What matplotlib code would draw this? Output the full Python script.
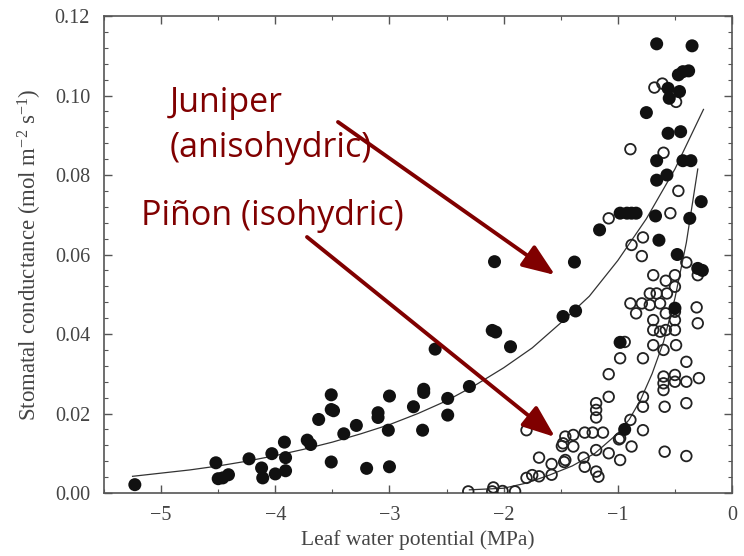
import matplotlib
matplotlib.use("Agg")
import matplotlib.pyplot as plt
from matplotlib.patches import FancyArrowPatch
from matplotlib.ticker import MultipleLocator, FormatStrFormatter

# juniper (filled circles)
juniper_psi = [-5.23, -4.52, -4.50, -4.46, -4.41, -4.23, -4.12, -4.11, -4.03, -4.00,
               -3.92, -3.91, -3.91, -3.72, -3.69, -3.62, -3.51, -3.51, -3.49, -3.51,
               -3.40, -3.29, -3.20, -3.10, -3.10, -3.00, -3.01, -3.00, -2.79, -2.70,
               -2.70, -2.71, -2.60, -2.49, -2.49, -2.30, -2.10, -2.07, -1.94, -2.08,
               -1.73, -1.38, -1.48, -1.37, -0.98, -0.94, -0.50, -0.48, -0.30, -0.26,
               -0.66, -0.35, -0.47, -0.43, -0.38, -0.56, -0.55, -0.46, -0.75, -0.56,
               -0.45, -0.66, -0.43, -0.36, -0.66, -0.57, -0.27, -0.98, -0.92, -0.88,
               -0.84, -0.67, -0.37, -1.16, -0.64]
juniper_gs = [0.0021, 0.0076, 0.0036, 0.0038, 0.0046, 0.0086, 0.0063, 0.0038, 0.0099, 0.0048,
              0.0128, 0.0089, 0.0056, 0.0133, 0.0122, 0.0185, 0.0247, 0.0210, 0.0207, 0.0078,
              0.0149, 0.0170, 0.0062, 0.0202, 0.0190, 0.0244, 0.0158, 0.0066, 0.0217, 0.0261,
              0.0253, 0.0158, 0.0362, 0.0238, 0.0196, 0.0268, 0.0409, 0.0405, 0.0368, 0.0582,
              0.0585, 0.0581, 0.0444, 0.0458, 0.0379, 0.0160, 0.0465, 0.0600, 0.0565, 0.0560,
              0.1130, 0.1125, 0.1052, 0.1060, 0.1062, 0.1018, 0.0993, 0.1010, 0.0957, 0.0905,
              0.0909, 0.0836, 0.0836, 0.0836, 0.0787, 0.0800, 0.0733, 0.0704, 0.0704, 0.0704,
              0.0704, 0.0697, 0.0691, 0.0662, 0.0636]

# pinon (open circles)
pinon_psi = [-2.31, -2.10, -2.09, -2.01, -1.90, -1.80, -1.75, -1.69, -1.58, -1.69,
             -1.58, -1.80, -1.47, -1.49, -1.46, -1.39, -1.29, -1.22, -1.13, -1.48,
             -1.39, -1.46, -1.29, -1.19, -1.08, -0.98, -1.19, -1.17, -1.30, -1.19,
             -1.19, -1.19, -1.08, -1.08, -0.99, -0.88, -0.89, -0.78, -0.98, -0.78,
             -0.78, -0.59, -0.40, -0.59, -0.40, -0.98, -0.78, -0.40, -0.60, -0.50,
             -0.40, -0.29, -0.60, -0.50, -0.60, -0.94, -0.69, -0.60, -0.49, -0.69,
             -0.69, -0.63, -0.58, -0.50, -0.89, -0.79, -0.72, -0.63, -0.84, -0.58,
             -0.50, -0.50, -0.31, -0.30, -0.72, -0.66, -0.57, -0.50, -0.69, -0.58,
             -0.50, -0.30, -0.40, -0.79, -0.78, -0.88, -1.08, -0.54, -0.47, -0.89,
             -0.60, -0.49, -0.68, -0.61]
pinon_gs = [0.0004, 0.0004, 0.0014, 0.0005, 0.0004, 0.0038, 0.0045, 0.0042, 0.0046, 0.0089,
            0.0073, 0.0158, 0.0078, 0.0118, 0.0142, 0.0146, 0.0152, 0.0152, 0.0152, 0.0125,
            0.0117, 0.0083, 0.0066, 0.0108, 0.0100, 0.0083, 0.0054, 0.0041, 0.0089, 0.0190,
            0.0209, 0.0226, 0.0242, 0.0299, 0.0135, 0.0117, 0.0184, 0.0158, 0.0138, 0.0242,
            0.0217, 0.0217, 0.0226, 0.0104, 0.0093, 0.0339, 0.0339, 0.0330, 0.0293, 0.0297,
            0.0280, 0.0289, 0.0276, 0.0280, 0.0259, 0.0380, 0.0372, 0.0360, 0.0372, 0.0435,
            0.0410, 0.0406, 0.0410, 0.0410, 0.0477, 0.0477, 0.0473, 0.0477, 0.0452, 0.0452,
            0.0456, 0.0435, 0.0467, 0.0427, 0.0502, 0.0502, 0.0502, 0.0519, 0.0548, 0.0534,
            0.0548, 0.0548, 0.0580, 0.0596, 0.0643, 0.0624, 0.0691, 0.0704, 0.0760, 0.0865,
            0.0856, 0.0984, 0.1020, 0.1030]

# fitted curves
juniper_fit_psi = [-5.25, -5.0, -4.75, -4.5, -4.25, -4.0, -3.75, -3.5, -3.25, -3.0, -2.75, -2.5,
                   -2.25, -2.0, -1.75, -1.5, -1.25, -1.0, -0.75, -0.5, -0.25]
juniper_fit_gs = [0.0042, 0.0050, 0.0058, 0.0068, 0.0080, 0.0094, 0.0110, 0.0128, 0.0149, 0.0172,
                  0.0200, 0.0232, 0.0271, 0.0315, 0.0365, 0.0428, 0.0495, 0.0585, 0.0690, 0.0815,
                  0.0965]
pinon_fit_psi = [-2.3, -2.0, -1.8, -1.6, -1.4, -1.2, -1.0, -0.9, -0.8, -0.7, -0.6, -0.5, -0.4, -0.3]
pinon_fit_gs = [0.0008, 0.0012, 0.0025, 0.0045, 0.0068, 0.0100, 0.0150, 0.0185, 0.0235, 0.0300,
                0.0380, 0.0490, 0.0630, 0.0815]

red = '#800000'
gray = '#444444'
serif = ['Liberation Serif', 'DejaVu Serif']
plt.rcParams['mathtext.fontset'] = 'custom'
plt.rcParams['mathtext.rm'] = 'Liberation Serif'
plt.rcParams['mathtext.it'] = 'Liberation Serif:italic'

fig = plt.figure(figsize=(7.44, 5.56), dpi=100)
ax = fig.add_axes([0.1398, 0.1133, 0.8441, 0.8579])

ax.plot(juniper_fit_psi, juniper_fit_gs, color='#333333', lw=0.9)
ax.plot(pinon_fit_psi, pinon_fit_gs, color='#333333', lw=0.9)
ax.scatter(pinon_psi, pinon_gs, s=58, facecolors='none', edgecolors='#222222', linewidths=1.3, zorder=3)
ax.scatter(juniper_psi, juniper_gs, s=88, color='#111111', edgecolors='none', zorder=3)

ax.set_xlim(-5.5, 0)
ax.set_ylim(0, 0.12)
ax.xaxis.set_major_locator(MultipleLocator(1))
ax.xaxis.set_minor_locator(MultipleLocator(0.5))
ax.yaxis.set_major_locator(MultipleLocator(0.02))
ax.yaxis.set_minor_locator(MultipleLocator(0.004))
ax.yaxis.set_major_formatter(FormatStrFormatter('%.2f'))
ax.tick_params(which='both', direction='in', top=True, right=True, colors='#555555',
               labelcolor=gray, labelsize=14.5)
ax.tick_params(which='major', length=6, width=1)
ax.tick_params(axis='y', pad=10)
ax.tick_params(axis='x', pad=9)
ax.tick_params(which='minor', length=3, width=0.8)
for lab in ax.get_xticklabels() + ax.get_yticklabels():
    lab.set_family(serif)
for s in ax.spines.values():
    s.set_color('#555555')
    s.set_linewidth(1.2)

ax.set_xlabel('Leaf water potential (MPa)', family=serif, fontsize=15.5, color=gray, labelpad=4)
ax.set_ylabel(r'Stomatal conductance (mol m$^{-2}$ s$^{-1}$)', family=serif, fontsize=16.5,
              color=gray, labelpad=8)

sans = ['Open Sans', 'DejaVu Sans']
fig.text(170 / 744, 1 - 112 / 556, 'Juniper', family=sans, fontsize=24.5, color=red, va='baseline')
fig.text(170 / 744, 1 - 157 / 556, '(anisohydric)', family=sans, fontsize=24.5, color=red, va='baseline')
fig.text(141 / 744, 1 - 225 / 556, 'Piñon (isohydric)', family=sans, fontsize=24.5, color=red, va='baseline')

arrow = dict(arrowstyle='-|>,head_length=0.9,head_width=0.35', color=red, lw=2.8,
             mutation_scale=22, shrinkA=0, shrinkB=0)
fig.add_artist(FancyArrowPatch((338 / 744, 1 - 122 / 556), (555 / 744, 1 - 275 / 556),
                               transform=fig.transFigure, **arrow))
fig.add_artist(FancyArrowPatch((307 / 744, 1 - 237 / 556), (555 / 744, 1 - 437 / 556),
                               transform=fig.transFigure, **arrow))

fig.savefig('out.png', dpi=100)
